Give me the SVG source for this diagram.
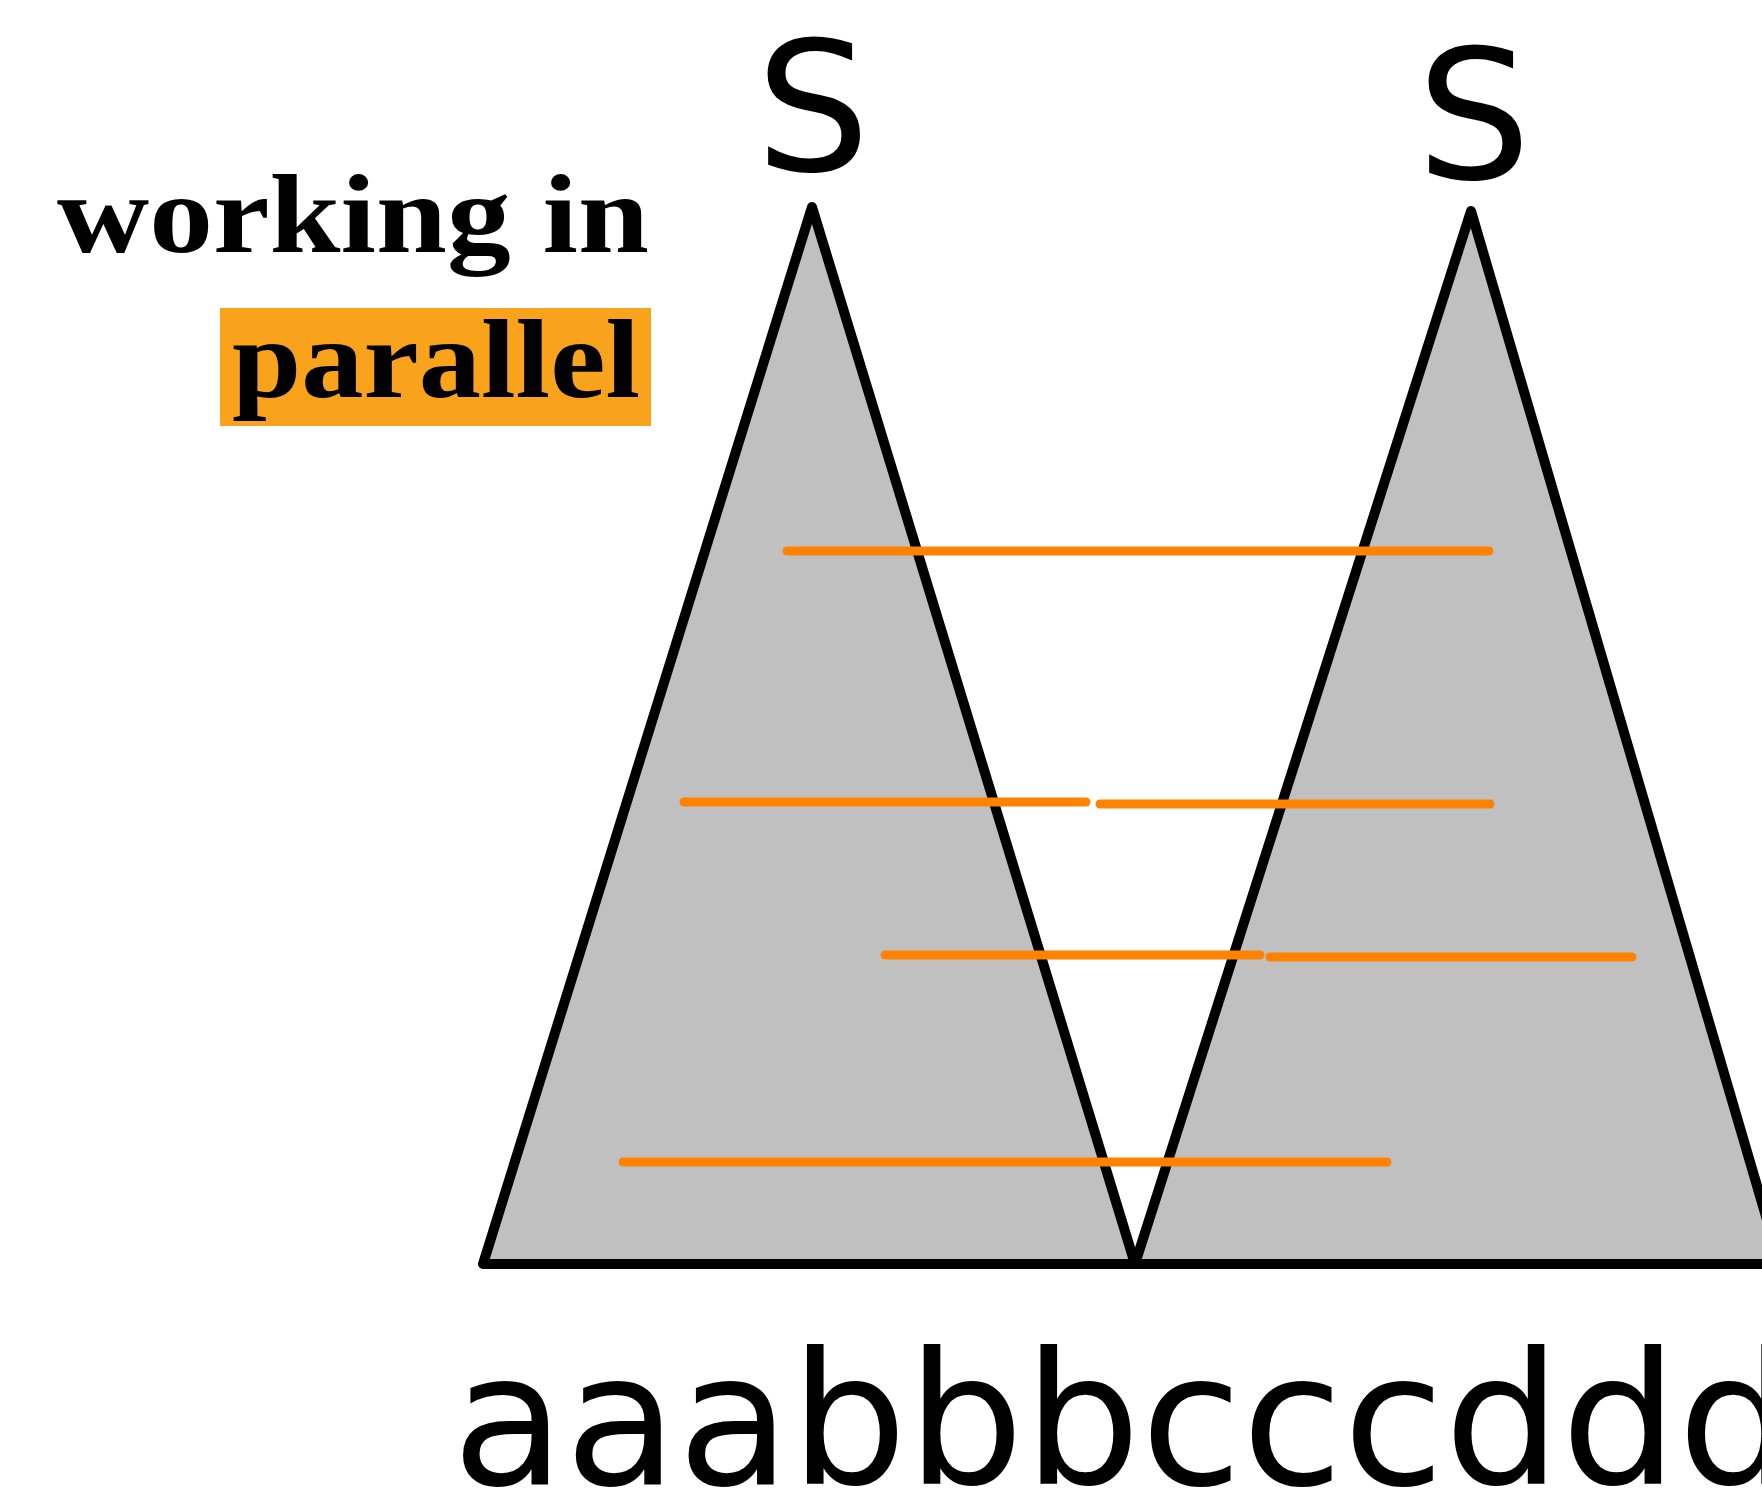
<svg xmlns="http://www.w3.org/2000/svg" width="1762" height="1492" viewBox="0 0 1762 1492">
  <style>
    .tri { fill: #C0C0C0; stroke: #000; stroke-width: 10; stroke-linejoin: round; }
    .base { stroke: #000; stroke-width: 9; stroke-linecap: round; fill: none; }
    .bar { stroke: #FF8200; stroke-width: 9; stroke-linecap: round; fill: none; }
    .serif { font-family: "Liberation Serif", "DejaVu Serif", serif; font-weight: bold; font-size: 113px; fill: #000; }
    .sans { font-family: "DejaVu Sans", "Liberation Sans", sans-serif; fill: #000; }
  </style>
  <rect width="1762" height="1492" fill="#fff"/>

  <g id="label-working">
    <text class="serif" x="649" y="252" text-anchor="end" textLength="592" lengthAdjust="spacingAndGlyphs">working in</text>
  </g>
  <g id="label-parallel">
    <rect x="220" y="308" width="431" height="118" fill="#F9A31D"/>
    <text class="serif" x="232" y="397" textLength="408" lengthAdjust="spacingAndGlyphs">parallel</text>
  </g>

  <g id="tree-left">
    <polygon class="tri" points="812,207 1135,1264 483,1264"/>
    <text class="sans" x="813" y="170" font-size="180" text-anchor="middle">S</text>
  </g>
  <g id="tree-right">
    <polygon class="tri" points="1471,211 1780,1264 1135,1264"/>
    <text class="sans" x="1474" y="178" font-size="180" text-anchor="middle">S</text>
  </g>

  <g id="baseline">
    <line class="base" x1="483" y1="1264" x2="1770" y2="1264"/>
  </g>

  <g id="connectors">
    <line class="bar" x1="787" y1="551" x2="1489" y2="551"/>
    <line class="bar" x1="684" y1="802" x2="1086" y2="802"/>
    <line class="bar" x1="1100" y1="804" x2="1490" y2="804"/>
    <line class="bar" x1="885" y1="955" x2="1260" y2="955"/>
    <line class="bar" x1="1270" y1="957" x2="1632" y2="957"/>
    <line class="bar" x1="623" y1="1162" x2="1387" y2="1162"/>
  </g>

  <g id="string">
    <text class="sans" x="452" y="1484" font-size="184">aaabbbcccddd</text>
  </g>
</svg>
